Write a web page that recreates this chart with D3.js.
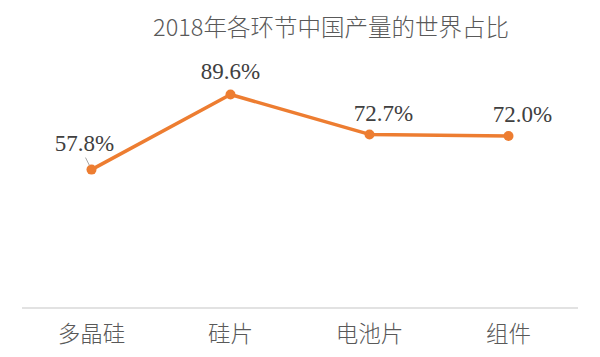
<!DOCTYPE html>
<html><head><meta charset="utf-8">
<script src="https://cdn.jsdelivr.net/npm/d3@7"></script>
<style>body{margin:0;background:#fff}svg{display:block}</style>
</head><body>
<svg id="c" width="600" height="357"></svg>
<script>
const title = "2018年各环节中国产量的世界占比";
const categories = ["多晶硅", "硅片", "电池片", "组件"];
const values = [57.8, 89.6, 72.7, 72.0];
const labels = ["57.8%", "89.6%", "72.7%", "72.0%"];

const svg = d3.select("#c");
const x = d3.scaleBand().domain(categories).range([22, 578]);
const y = d3.scaleLinear().domain([0, 100]).range([306, 70]);
const cx = d => x(d) + x.bandwidth() / 2;

svg.append("text").attr("x", 331).attr("y", 36).attr("text-anchor", "middle")
  .attr("font-family", "Noto Sans CJK SC").attr("font-weight", 300).attr("font-size", 23.5).attr("fill", "#595959").text(title);

svg.append("line").attr("x1", 22).attr("x2", 578).attr("y1", 308).attr("y2", 308)
  .attr("stroke", "#d9d9d9").attr("stroke-width", 1.5);

const xAxis = d3.axisBottom(x).tickSize(0).tickPadding(0);
const g = svg.append("g").attr("transform", "translate(0,308)").call(xAxis);
g.select(".domain").remove();
g.selectAll("text").attr("font-family", "Noto Sans CJK SC").attr("font-weight", 300).attr("font-size", 22.5)
  .attr("fill", "#595959").attr("dy", 0).attr("y", 34);

const line = d3.line().x((d, i) => cx(categories[i])).y(d => y(d));
svg.append("path").datum(values).attr("d", line).attr("fill", "none")
  .attr("stroke", "#ED7D31").attr("stroke-width", 3.5).attr("stroke-linejoin", "round");

svg.selectAll("circle.pt").data(values).enter().append("circle")
  .attr("cx", (d, i) => cx(categories[i])).attr("cy", d => y(d)).attr("r", 5)
  .attr("fill", "#ED7D31");

const offs = [[-7, -19], [0, -16], [14, -13], [14, -14]];
svg.append("line").attr("x1", cx(categories[0]) - 6).attr("y1", y(values[0]) - 12)
  .attr("x2", cx(categories[0]) - 2).attr("y2", y(values[0]) - 4)
  .attr("stroke", "#a6a6a6").attr("stroke-width", 1);
svg.selectAll("text.lbl").data(values).enter().append("text")
  .attr("x", (d, i) => cx(categories[i]) + offs[i][0]).attr("y", (d, i) => y(d) + offs[i][1])
  .attr("text-anchor", "middle").attr("font-family", "'Liberation Serif', 'Times New Roman', serif").attr("font-size", 23)
  .attr("fill", "#404040").text((d, i) => labels[i]);
</script>
</body></html>
